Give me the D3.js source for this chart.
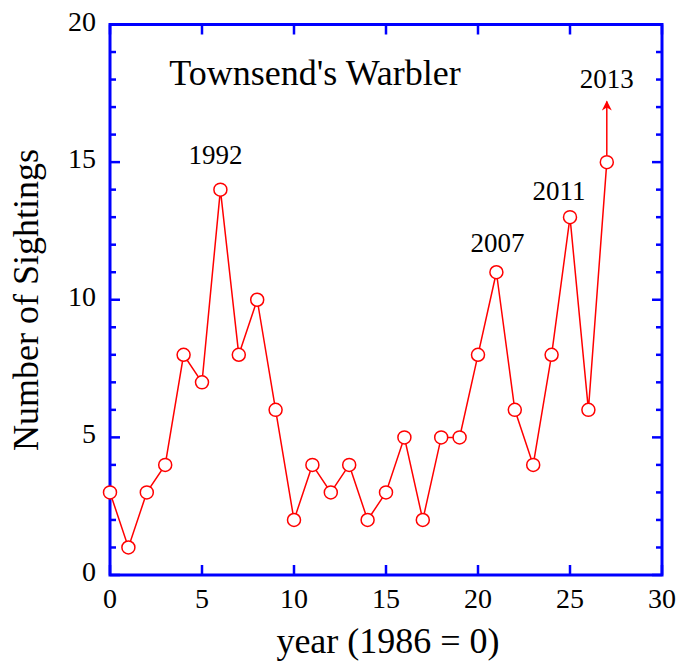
<!DOCTYPE html>
<html>
<head>
<meta charset="utf-8">
<script src="https://cdn.jsdelivr.net/npm/d3@7"></script>
<style>
  body { margin: 0; background: #fff; }
  text { font-family: "Liberation Serif", "Times New Roman", serif; fill: #000; }
</style>
</head>
<body>
<svg id="chart" width="678" height="661"></svg>
<script>
// data
const years = d3.range(0, 28);
const sightings = [3, 1, 3, 4, 8, 7, 14, 8, 10, 6, 2, 4, 3, 4, 2, 3, 5, 2, 5, 5, 8, 11, 6, 4, 8, 13, 6, 15];
const xTicks = [0, 5, 10, 15, 20, 25, 30];
const yTicks = [0, 5, 10, 15, 20];
const yMinorTicks = d3.range(0, 21);
const annotations = [
  {label: '1992', year: 6, value: 14},
  {label: '2007', year: 21, value: 11},
  {label: '2011', year: 25, value: 13},
  {label: '2013', year: 27, value: 17.2}
];
const arrowYear = 27;
const arrowTo = 17.2;

// label nudges (px) so the year tags sit where the original has them
const labelShift = {
  '1992': [-5, -26],
  '2007': [1, -20],
  '2011': [-11, -17],
  '2013': [0, -14]
};

const margin = {top: 24.5, right: 16, bottom: 86, left: 110};
const width = 678, height = 661;

const svg = d3.select('#chart');

const x = d3.scaleLinear().domain([0, 30]).range([margin.left, width - margin.right]);
const y = d3.scaleLinear().domain([0, 20]).range([height - margin.bottom, margin.top]);

const blue = '#0000ff';
const red = '#ff0000';

// ticks, all pointing inward
const gTicks = svg.append('g').attr('stroke', blue).attr('stroke-width', 2.5);
gTicks.append('g').selectAll('line')
  .data(yMinorTicks)
  .join('line')
  .attr('x1', x(0)).attr('x2', d => x(0) + (d % 5 === 0 ? 10 : 6))
  .attr('y1', d => y(d)).attr('y2', d => y(d));
gTicks.append('g').selectAll('line')
  .data(yMinorTicks)
  .join('line')
  .attr('x1', x(30)).attr('x2', d => x(30) - (d % 5 === 0 ? 10 : 6))
  .attr('y1', d => y(d)).attr('y2', d => y(d));
gTicks.append('g').selectAll('line')
  .data(xTicks)
  .join('line')
  .attr('x1', d => x(d)).attr('x2', d => x(d))
  .attr('y1', y(0)).attr('y2', y(0) - 10);
gTicks.append('g').selectAll('line')
  .data(xTicks)
  .join('line')
  .attr('x1', d => x(d)).attr('x2', d => x(d))
  .attr('y1', y(20)).attr('y2', y(20) + 10);

// frame
svg.append('rect')
  .attr('x', x(0)).attr('y', y(20))
  .attr('width', x(30) - x(0)).attr('height', y(0) - y(20))
  .attr('fill', 'none').attr('stroke', blue).attr('stroke-width', 3);

// tick labels
svg.append('g').selectAll('text')
  .data(xTicks)
  .join('text')
  .attr('x', d => x(d)).attr('y', y(0) + 33)
  .attr('text-anchor', 'middle')
  .attr('font-size', 28)
  .text(d => d);

svg.append('g').selectAll('text')
  .data(yTicks)
  .join('text')
  .attr('x', x(0) - 14).attr('y', d => y(d) + 6)
  .attr('text-anchor', 'end')
  .attr('font-size', 28)
  .text(d => d);

// axis titles
svg.append('text')
  .attr('x', 388).attr('y', 653)
  .attr('text-anchor', 'middle')
  .attr('font-size', 36)
  .text('year (1986 = 0)');

svg.append('text')
  .attr('transform', 'translate(38,300) rotate(-90)')
  .attr('text-anchor', 'middle')
  .attr('font-size', 36)
  .text('Number of Sightings');

svg.append('text')
  .attr('x', 315).attr('y', 85)
  .attr('text-anchor', 'middle')
  .attr('font-size', 36)
  .text("Townsend's Warbler");

// arrow
svg.append('defs').append('marker')
  .attr('id', 'arrowhead')
  .attr('viewBox', '0 0 10 10')
  .attr('refX', 9).attr('refY', 5)
  .attr('markerWidth', 12).attr('markerHeight', 10)
  .attr('markerUnits', 'userSpaceOnUse')
  .attr('orient', 'auto')
  .append('path')
  .attr('d', 'M0,0 L10,5 L0,10 L3,5 Z')
  .attr('fill', red);

svg.append('line')
  .attr('x1', x(arrowYear)).attr('x2', x(arrowYear))
  .attr('y1', y(sightings[arrowYear]) - 7).attr('y2', y(arrowTo))
  .attr('stroke', red).attr('stroke-width', 1.5)
  .attr('marker-end', 'url(#arrowhead)');

// series
const line = d3.line()
  .x((d, i) => x(years[i]))
  .y(d => y(d));

svg.append('path')
  .datum(sightings)
  .attr('d', line)
  .attr('fill', 'none')
  .attr('stroke', red)
  .attr('stroke-width', 1.5);

svg.append('g').selectAll('circle')
  .data(sightings)
  .join('circle')
  .attr('cx', (d, i) => x(years[i]))
  .attr('cy', d => y(d))
  .attr('r', 6.5)
  .attr('fill', '#fff')
  .attr('stroke', red)
  .attr('stroke-width', 1.5);

// year annotations
svg.append('g').selectAll('text')
  .data(annotations)
  .join('text')
  .attr('x', d => x(d.year) + labelShift[d.label][0])
  .attr('y', d => y(d.value) + labelShift[d.label][1])
  .attr('text-anchor', 'middle')
  .attr('font-size', 27)
  .text(d => d.label);
</script>
</body>
</html>
